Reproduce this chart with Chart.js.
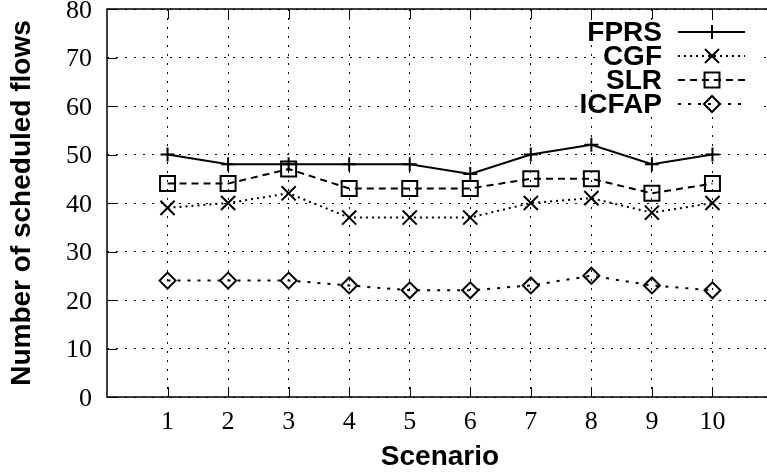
<!DOCTYPE html>
<html>
<head>
<meta charset="utf-8">
<script src="https://cdn.jsdelivr.net/npm/chart.js@4/dist/chart.umd.min.js"></script>
<style>
  html, body { margin: 0; padding: 0; background: #fff; overflow: hidden; }
  #wrap { width: 773px; height: 475px; }
  canvas { display: block; }
</style>
</head>
<body>
<div id="wrap"><canvas id="flows-chart" width="773" height="475"></canvas></div>
<script>
// Scenario 1..10
const scenarios = [1, 2, 3, 4, 5, 6, 7, 8, 9, 10];
const yTicks = [0, 10, 20, 30, 40, 50, 60, 70, 80];

const fprs  = [50, 48, 48, 48, 48, 46, 50, 52, 48, 50];
const cgf   = [39, 40, 42, 37, 37, 37, 40, 41, 38, 40];
const slr   = [44, 44, 47, 43, 43, 43, 45, 45, 42, 44];
const icfap = [24, 24, 24, 23, 22, 22, 23, 25, 23, 22];

const toPoints = vals => vals.map((v, i) => ({ x: scenarios[i], y: v }));

const SERIF = "'Liberation Serif', 'Times New Roman', serif";
const SANS = "'Liberation Sans', Arial, sans-serif";

// gnuplot-like frame: solid borders + inner ticks
const framePlugin = {
  id: 'frame',
  afterDatasetsDraw(chart) {
    const { ctx, chartArea: a, scales } = chart;
    ctx.save();
    ctx.strokeStyle = '#000';
    ctx.lineWidth = 1.5;
    ctx.setLineDash([]);
    ctx.beginPath();
    ctx.moveTo(a.right, a.top);
    ctx.lineTo(a.left, a.top);
    ctx.lineTo(a.left, a.bottom);
    ctx.lineTo(a.right, a.bottom);
    ctx.stroke();
    ctx.lineWidth = 1;
    ctx.beginPath();
    scenarios.forEach(v => {
      const x = Math.round(scales.x.getPixelForValue(v)) + 0.5;
      ctx.moveTo(x, a.bottom); ctx.lineTo(x, a.bottom - 10);
      ctx.moveTo(x, a.top); ctx.lineTo(x, a.top + 10);
    });
    yTicks.forEach(v => {
      const y = Math.round(scales.y.getPixelForValue(v)) + 0.5;
      ctx.moveTo(a.left, y); ctx.lineTo(a.left + 10, y);
    });
    ctx.stroke();
    ctx.restore();
  }
};

// legend: text on the left, line sample with marker on the right
const keyPlugin = {
  id: 'key',
  afterDraw(chart) {
    const { ctx } = chart;
    ctx.save();
    ctx.fillStyle = '#fff';
    ctx.fillRect(595, 20, 162, 96);
    ctx.font = 'bold 28px ' + SANS;
    ctx.textAlign = 'right';
    ctx.textBaseline = 'middle';
    chart.data.datasets.forEach((ds, i) => {
      const y = 32 + i * 24;
      ctx.fillStyle = '#000';
      ctx.fillText(ds.label, 662, y + 1);
      ctx.strokeStyle = '#000';
      ctx.lineWidth = ds.borderWidth;
      ctx.setLineDash(ds.borderDash || []);
      ctx.beginPath();
      ctx.moveTo(678, y);
      ctx.lineTo(745, y);
      ctx.stroke();
      ctx.setLineDash([]);
      ctx.fillStyle = 'rgba(0,0,0,0)';
      ctx.lineWidth = ds.pointBorderWidth;
      Chart.helpers.drawPoint(ctx, {
        pointStyle: ds.pointStyle,
        radius: ds.pointRadius,
        borderWidth: ds.pointBorderWidth,
        rotation: 0
      }, 712, y);
    });
    ctx.restore();
  }
};

const mkSet = (label, data, dash, style, radius) => ({
  label,
  data: toPoints(data),
  borderColor: '#000',
  backgroundColor: 'rgba(0,0,0,0)',
  borderWidth: 2,
  borderDash: dash,
  pointStyle: style,
  pointRadius: radius,
  pointHoverRadius: radius,
  pointBorderWidth: 2,
  pointBorderColor: '#000',
  pointBackgroundColor: 'rgba(0,0,0,0)',
  tension: 0,
  fill: false
});

const axisBorder = { display: false, color: '#000', width: 0, dash: [2, 7] };

new Chart(document.getElementById('flows-chart'), {
  type: 'line',
  data: {
    datasets: [
      mkSet('FPRS', fprs, [], 'cross', 7),
      mkSet('CGF', cgf, [2, 4], 'crossRot', 10),
      mkSet('SLR', slr, [7, 5], 'rect', 10.6),
      mkSet('ICFAP', icfap, [3, 7], 'rectRot', 8)
    ]
  },
  options: {
    responsive: false,
    maintainAspectRatio: false,
    animation: false,
    devicePixelRatio: 1,
    layout: { autoPadding: false, padding: { top: 9, right: 0, left: 0, bottom: 0 } },
    plugins: {
      legend: { display: false },
      tooltip: { enabled: false }
    },
    scales: {
      x: {
        type: 'linear',
        min: 0,
        max: 11,
        afterBuildTicks: scale => { scale.ticks = scenarios.map(v => ({ value: v })); },
        afterFit: scale => { scale.height = 78; scale.paddingLeft = 0; scale.paddingRight = 0; },
        ticks: {
          color: '#000',
          padding: 10,
          maxRotation: 0,
          autoSkip: false,
          font: { family: SERIF, size: 26 }
        },
        grid: { color: '#000', lineWidth: 1, drawTicks: false },
        border: axisBorder,
        title: {
          display: true,
          text: 'Scenario',
          color: '#000',
          padding: { top: 0, bottom: 1 },
          font: { family: SANS, size: 28, weight: 'bold' }
        }
      },
      y: {
        min: 0,
        max: 80,
        afterBuildTicks: scale => { scale.ticks = yTicks.map(v => ({ value: v })); },
        afterFit: scale => { scale.width = 107; scale.paddingTop = 0; scale.paddingBottom = 0; },
        ticks: {
          color: '#000',
          padding: 15,
          labelOffset: 2,
          font: { family: SERIF, size: 26 }
        },
        grid: { color: '#000', lineWidth: 1, drawTicks: false },
        border: axisBorder,
        title: {
          display: true,
          text: 'Number of scheduled flows',
          color: '#000',
          padding: { top: 5, bottom: 0 },
          font: { family: SANS, size: 28, weight: 'bold' }
        }
      }
    }
  },
  plugins: [framePlugin, keyPlugin]
});
</script>
</body>
</html>
